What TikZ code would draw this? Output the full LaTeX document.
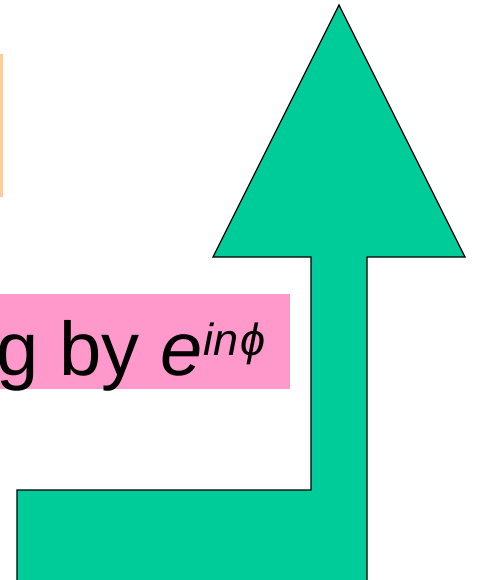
\documentclass[tikz,border=0pt]{standalone}
\usepackage{fontspec}
\setmainfont{Liberation Sans}
\usepackage{xcolor}
\usetikzlibrary{positioning}
\definecolor{arrowgreen}{HTML}{00CC99}
\definecolor{labelpink}{HTML}{FF99CC}
\definecolor{boxorange}{HTML}{FFCC99}

\begin{document}
\begin{tikzpicture}[x=1pt, y=-1pt]
\useasboundingbox (0,0) rectangle (477,580);
\clip (0,0) rectangle (477,580);
\fill[boxorange] (0,54) rectangle (3,197);
\fill[labelpink] (0,294) rectangle (290,389);
\node[anchor=base west, inner sep=0pt, font=\fontsize{76}{86}\selectfont] (phase) at (-4,375)
  {g by \textit{e}\raisebox{20pt}{\fontsize{45}{48}\selectfont\itshape in\hspace{2pt}ϕ}};
\draw[fill=arrowgreen, line width=1.3pt, line join=miter]
  (339,5) -- (465,257) -- (367,257) -- (367,590) -- (17,590) -- (17,490)
  -- (311,490) -- (311,257) -- (213,257) -- cycle;
\end{tikzpicture}
\end{document}
